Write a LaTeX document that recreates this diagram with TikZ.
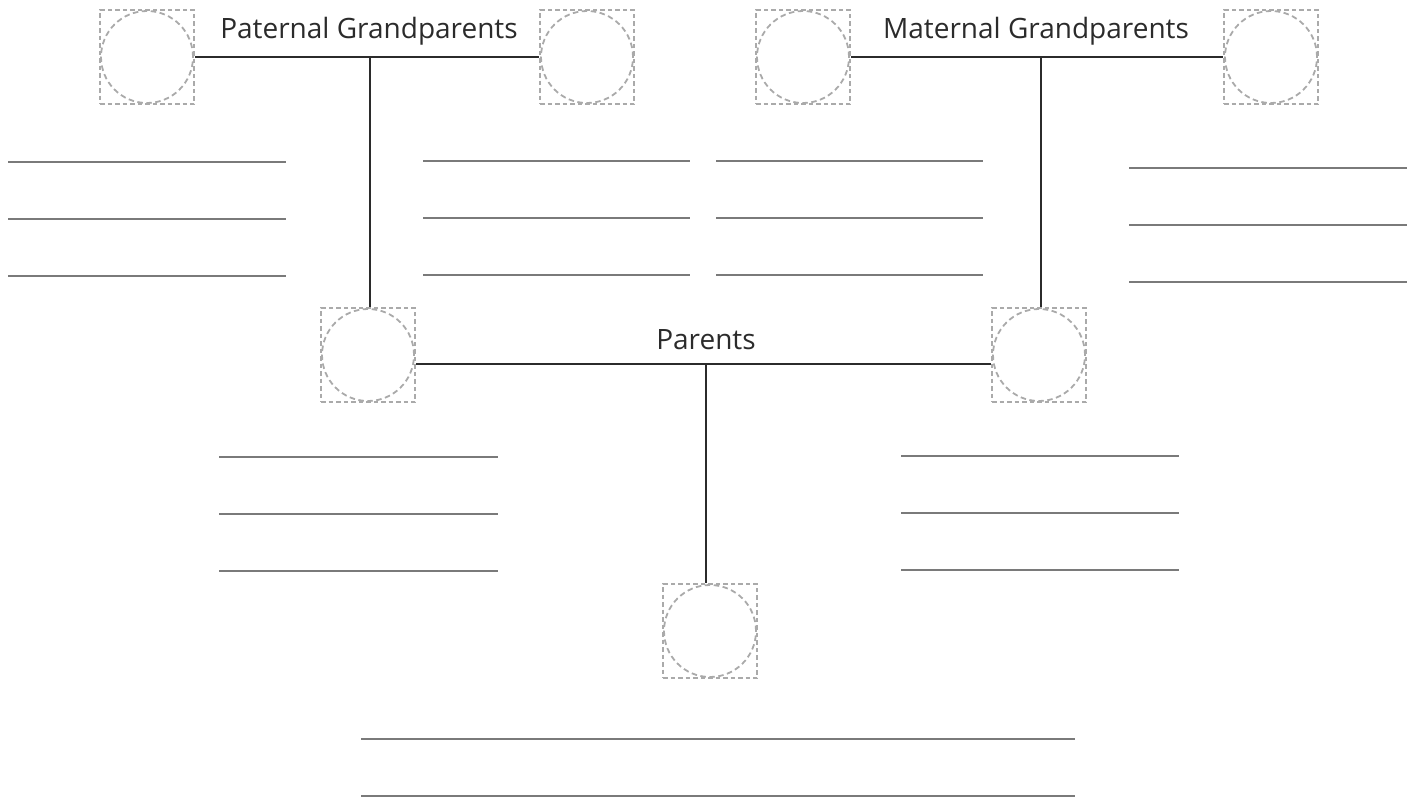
\documentclass[tikz,border=0pt]{standalone}
\usepackage{fontspec}
\setmainfont{Open Sans}
\usetikzlibrary{positioning}
\definecolor{boxgray}{HTML}{AAAAAA}
\definecolor{linkdark}{HTML}{2B2B2B}
\definecolor{blankgray}{HTML}{7A7A7A}

\begin{document}
\begin{tikzpicture}[x=1pt,y=-1pt,
    person/.style={draw=boxgray,line width=1.8pt,dash pattern=on 4.5pt off 3pt,minimum size=94pt,inner sep=0pt,
        path picture={\draw[boxgray,line width=1.8pt,dash pattern=on 5.5pt off 3.5pt] (path picture bounding box.center) circle (46pt);}},
    link/.style={draw=linkdark,line width=2.4pt},
    blank/.style={draw=blankgray,line width=1.3pt},
    title/.style={text=linkdark,font=\fontsize{28}{32}\selectfont,inner sep=0pt}]
        \useasboundingbox (0,0) rectangle (1416,798);
        \node[person] (pgfather) at (147,57) {};
        \node[person] (pgmother) at (587,57) {};
        \node[person] (mgfather) at (803,57) {};
        \node[person] (mgmother) at (1271,57) {};
        \node[person] (father) at (368,355) {};
        \node[person] (mother) at (1039,355) {};
        \node[person] (child) at (710,631) {};
        \node[title] (ptitle) at (369,31) {Paternal Grandparents};
        \node[title] (mtitle) at (1036,31) {Maternal Grandparents};
        \node[title] (partitle) at (706,340) {Parents};
        \coordinate (pgmid) at (370,57);
        \coordinate (mgmid) at (1041,57);
        \coordinate (parmid) at (706,364);
        \draw[link] (pgfather.east) -- (pgmother.west);
        \draw[link] (pgmid) -- (pgmid |- father.north);
        \draw[link] (mgfather.east) -- (mgmother.west);
        \draw[link] (mgmid) -- (mgmid |- mother.north);
        \draw[link] (parmid -| father.east) -- (parmid -| mother.west);
        \draw[link] (parmid) -- (parmid |- child.north);
        \foreach \x/\y/\w in {8/162/278, 423/161/267, 716/161/267, 1129/168/278, 219/457/279, 901/456/278}
            \foreach \k in {0,1,2}
                \draw[blank] (\x,\y+57*\k) -- ++(\w,0);
        \foreach \y in {739,796}
            \draw[blank] (361,\y) -- (1075,\y);
\end{tikzpicture}
\end{document}
